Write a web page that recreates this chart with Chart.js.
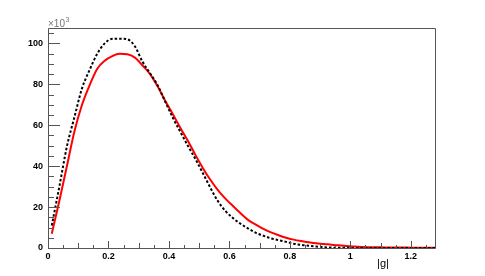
<!DOCTYPE html>
<html>
<head>
<meta charset="utf-8">
<script src="https://cdn.jsdelivr.net/npm/chart.js@4"></script>
<style>
html,body{margin:0;padding:0;background:#fff;}
#wrap{width:485px;height:276px;position:relative;}
</style>
</head>
<body>
<div id="wrap"><canvas id="c" width="485" height="276"></canvas></div>
<script>
const xValues = [0.0125,0.0375,0.0625,0.0875,0.1125,0.1375,0.1625,0.1875,0.2125,0.2375,0.2625,0.2875,0.3125,0.3375,0.3625,0.3875,0.4125,0.4375,0.4625,0.4875,0.5125,0.5375,0.5625,0.5875,0.6125,0.6375,0.6625,0.6875,0.7125,0.7375,0.7625,0.7875,0.8125,0.8375,0.8625,0.8875,0.9125,0.9375,0.9625,0.9875,1.0125,1.0375,1.0625,1.0875,1.1125,1.1375,1.1625,1.1875,1.2125,1.2375,1.2625,1.28];
const redValues = [7,23,40,57,70,79.5,87.5,91.5,93.8,94.9,94.7,93,89.2,85,79,72,65.5,58.8,52.4,45.5,39,33.2,28.2,24,20.4,16.9,13.6,11.4,9.3,7.6,6.2,5,4.1,3.4,2.8,2.3,2,1.6,1.3,1,0.7,0.5,0.4,0.35,0.3,0.25,0.2,0.2,0.15,0.15,0.1,0.1];
const blackValues = [11,30,49.6,64,78,87,94.8,100,102.2,102.3,102,98.5,91,85.4,79.5,71.6,63.8,56.8,50,43.5,36.5,29.3,22.8,18,14.5,11.8,9.5,7.4,6,4.7,3.8,3,2.1,1.5,1.1,0.7,0.4,0.2,0.15,0.1,0.05,0.05,0.05,0.05,0.05,0.05,0.05,0.05,0.05,0.05,0.05,0.05];
const xTickValues = [0,0.2,0.4,0.6,0.8,1,1.2];
const yTickValues = [0,20,40,60,80,100];
const xMax = 1.28, yMax = 107.5;

const FONT = "Liberation Sans";
const frameColor = "#555";

const framePlugin = {
  id: 'frame',
  afterDraw(chart) {
    const ctx = chart.ctx, a = chart.chartArea;
    const xs = chart.scales.x, ys = chart.scales.y;
    ctx.save();
    ctx.strokeStyle = frameColor;
    ctx.lineWidth = 1;
    ctx.beginPath();
    ctx.rect(Math.round(a.left)+0.5, Math.round(a.top)+0.5, Math.round(a.right-a.left), Math.round(a.bottom-a.top));
    ctx.stroke();
    // y ticks (inward)
    ctx.beginPath();
    for (let v = 0; v <= yMax + 1e-9; v += 5) {
      const py = Math.round(ys.getPixelForValue(v)) + 0.5;
      const len = (Math.abs(v % 20) < 1e-6) ? 12 : 6;
      ctx.moveTo(a.left, py); ctx.lineTo(a.left + len, py);
    }
    // x ticks (inward)
    for (let i = 0; i * 0.05 <= xMax + 1e-9; i++) {
      const v = i * 0.05;
      const px = Math.round(xs.getPixelForValue(v)) + 0.5;
      const len = (i % 4 === 0) ? 7 : (i % 2 === 0 ? 5 : 3);
      ctx.moveTo(px, a.bottom); ctx.lineTo(px, a.bottom - len);
    }
    ctx.stroke();
    // x10^3
    ctx.fillStyle = "#777";
    ctx.font = "10px " + FONT;
    ctx.textBaseline = "alphabetic";
    ctx.textAlign = "left";
    ctx.fillText("\u00d710", a.left, a.top - 1);
    const w = ctx.measureText("\u00d710").width;
    ctx.font = "7px " + FONT;
    ctx.fillText("3", a.left + w + 0.5, a.top - 6);
    // axis title
    ctx.fillStyle = "#000";
    ctx.font = "11px " + FONT;
    ctx.textAlign = "center";
    ctx.textBaseline = "middle";
    ctx.fillText("|g|", 383, 264);
    ctx.restore();
  }
};

new Chart(document.getElementById('c'), {
  type: 'line',
  data: {
    labels: xValues,
    datasets: [
      {
        label: 'black',
        data: xValues.map((x, i) => ({x: x, y: blackValues[i]})),
        borderColor: '#000',
        borderWidth: 2,
        borderDash: [2.5, 2],
        pointRadius: 0,
        fill: false,
        cubicInterpolationMode: 'monotone'
      },
      {
        label: 'red',
        data: xValues.map((x, i) => ({x: x, y: redValues[i]})),
        borderColor: '#ff0000',
        borderWidth: 2,
        pointRadius: 0,
        fill: false,
        cubicInterpolationMode: 'monotone'
      }
    ]
  },
  options: {
    responsive: false,
    animation: false,
    devicePixelRatio: 1,
    layout: { padding: { left: 0, right: 50, top: 28, bottom: 0 } },
    plugins: { legend: { display: false }, tooltip: { enabled: false } },
    scales: {
      x: {
        type: 'linear',
        min: 0, max: xMax,
        border: { display: false },
        grid: { display: false, drawTicks: false },
        afterBuildTicks(scale) { scale.ticks = xTickValues.map(v => ({value: v})); },
        afterFit(scale) { scale.height = 28; },
        ticks: {
          padding: 3,
          maxRotation: 0,
          autoSkip: false,
          color: '#000',
          font: { family: FONT, size: 9, weight: 'bold' },
          callback: (v) => String(Math.round(v * 10) / 10)
        }
      },
      y: {
        type: 'linear',
        min: 0, max: yMax,
        border: { display: false },
        grid: { display: false, drawTicks: false },
        afterBuildTicks(scale) { scale.ticks = yTickValues.map(v => ({value: v})); },
        afterFit(scale) { scale.width = 48; },
        ticks: {
          padding: 5,
          autoSkip: false,
          color: '#000',
          font: { family: FONT, size: 9, weight: 'bold' },
          callback: (v) => String(v)
        }
      }
    }
  },
  plugins: [framePlugin]
});
</script>
</body>
</html>
